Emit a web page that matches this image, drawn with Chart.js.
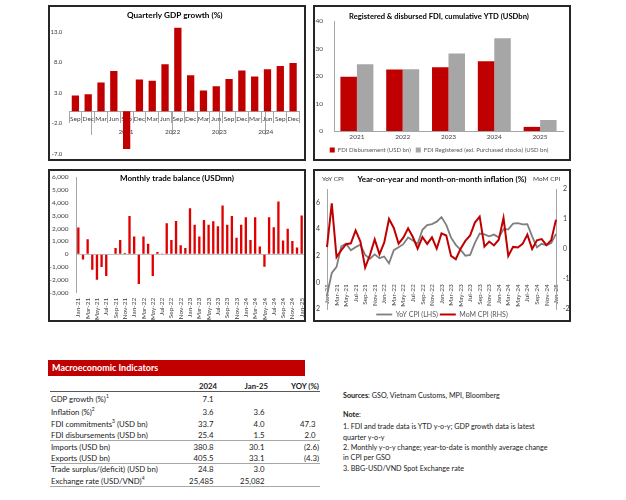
<!DOCTYPE html>
<html>
<head>
<meta charset="utf-8">
<script src="https://cdn.jsdelivr.net/npm/chart.js@4.4.1/dist/chart.umd.min.js"></script>
<style>
body{margin:0;width:626px;height:500px;background:#fff;position:relative;overflow:hidden;font-family:Lato,"Liberation Sans",sans-serif;color:#1a1a1a}
.box{position:absolute;border:2px solid #262626}
.box canvas{display:block}
.cap{position:absolute;font-size:6.5px;line-height:8px;color:#404040;white-space:nowrap}
#bar{position:absolute;left:48px;top:360px;width:253px;height:16px;background:#c00000;color:#fff;font-weight:bold;font-size:9px;line-height:16px;padding-left:4px}
.row{position:absolute;left:50px;width:270px;height:12px;font-size:7.8px;line-height:12px;white-space:nowrap}
.row span{position:absolute;top:0}
.row .l{left:1px}
.row .a{right:103px}
.row .b{right:52px}
.row .c{right:1px}
.row .p{padding-right:3.5px}
.row sup{font-size:5px;line-height:0;vertical-align:4px}
.hd{font-weight:bold}
.ln{position:absolute;left:50px;width:270px;height:1px;background:#a6a6a6}
.nt{position:absolute;left:343px;font-size:7.2px;line-height:9px;white-space:nowrap;color:#1a1a1a}
</style>
</head>
<body>

<div class="box" style="left:48px;top:5px"><canvas id="gdp" width="254" height="152"></canvas></div>
<div class="box" style="left:313px;top:5px"><canvas id="fdi" width="254" height="152"></canvas></div>
<div class="box" style="left:48px;top:169px"><canvas id="trade" width="254" height="149"></canvas></div>
<div class="box" style="left:313px;top:169px"><canvas id="cpi" width="254" height="149"></canvas></div>
<div class="cap" style="left:322px;top:175px">YoY CPI</div>
<div class="cap" style="left:533px;top:175px">MoM CPI</div>

<div id="bar">Macroeconomic Indicators</div>
<div class="row hd" style="top:380px"><span class="a">2024</span><span class="b">Jan-25</span><span class="c">YOY (%)</span></div>
<div class="ln" style="top:391px;background:#595959"></div>
<div class="row" style="top:393px"><span class="l">GDP growth (%)<sup>1</sup></span><span class="a p">7.1</span></div>
<div class="row" style="top:406px"><span class="l">Inflation (%)<sup>2</sup></span><span class="a p">3.6</span><span class="b p">3.6</span></div>
<div class="row" style="top:418px"><span class="l">FDI commitments<sup>3</sup> (USD bn)</span><span class="a p">33.7</span><span class="b p">4.0</span><span class="c p">47.3</span></div>
<div class="row" style="top:429px"><span class="l">FDI disbursements (USD bn)</span><span class="a p">25.4</span><span class="b p">1.5</span><span class="c p">2.0</span></div>
<div class="ln" style="top:440px"></div>
<div class="row" style="top:441px"><span class="l">Imports (USD bn)</span><span class="a p">380.8</span><span class="b p">30.1</span><span class="c">(2.6)</span></div>
<div class="row" style="top:452px"><span class="l">Exports (USD bn)</span><span class="a p">405.5</span><span class="b p">33.1</span><span class="c">(4.3)</span></div>
<div class="ln" style="top:463px"></div>
<div class="row" style="top:463px"><span class="l">Trade surplus/(deficit) (USD bn)</span><span class="a p">24.8</span><span class="b p">3.0</span></div>
<div class="row" style="top:475px"><span class="l">Exchange rate (USD/VND)<sup>4</sup></span><span class="a p">25,485</span><span class="b p">25,082</span></div>
<div class="ln" style="top:486px"></div>

<div class="nt" style="top:391px"><b>Sources</b>: GSO, Vietnam Customs, MPI, Bloomberg</div>
<div class="nt" style="top:410px"><b>Note</b>:</div>
<div class="nt" style="top:422px">1. FDI and trade data is YTD y-o-y; GDP growth data is latest</div>
<div class="nt" style="top:433px">quarter y-o-y</div>
<div class="nt" style="top:443px">2. Monthly y-o-y change; year-to-date is monthly average change</div>
<div class="nt" style="top:453px">in CPI per GSO</div>
<div class="nt" style="top:464px">3. BBG-USD/VND Spot Exchange rate</div>

<script>
// quarterly GDP growth, Q3 2020 - Q4 2024
const gdpQuarters = ['Sep','Dec','Mar','Jun','Sep','Dec','Mar','Jun','Sep','Dec','Mar','Jun','Sep','Dec','Mar','Jun','Sep','Dec']
const gdpGrowth = [2.6, 2.8, 4.7, 6.6, -6.2, 5.2, 5.0, 7.7, 13.7, 5.9, 3.4, 4.1, 5.3, 6.7, 5.7, 6.9, 7.4, 7.9]
const gdpYears = ['', '2021', '2022', '2023', '2024']
const gdpYearSpan = [2, 4, 4, 4, 4]
const gdpTicks = [-7, -2, 3, 8, 13]

// FDI, cumulative YTD
const fdiYears = ['2021', '2022', '2023', '2024', '2025']
const fdiDisbursed = [19.7, 22.4, 23.2, 25.4, 1.5]
const fdiRegistered = [24.3, 22.5, 28.2, 33.7, 4.0]

// monthly axis shared by trade and CPI
const months = [
    'Jan-21','Feb-21','Mar-21','Apr-21','May-21','Jun-21','Jul-21','Aug-21','Sep-21','Oct-21','Nov-21','Dec-21',
    'Jan-22','Feb-22','Mar-22','Apr-22','May-22','Jun-22','Jul-22','Aug-22','Sep-22','Oct-22','Nov-22','Dec-22',
    'Jan-23','Feb-23','Mar-23','Apr-23','May-23','Jun-23','Jul-23','Aug-23','Sep-23','Oct-23','Nov-23','Dec-23',
    'Jan-24','Feb-24','Mar-24','Apr-24','May-24','Jun-24','Jul-24','Aug-24','Sep-24','Oct-24','Nov-24','Dec-24',
    'Jan-25'
]
const tradeBalance = [
    2070, -410, 1160, -1220, -1990, -1010, -1700, -40, 470, 1090, 80, 2970,
    1370, -2330, 1370, 800, -1700, 170, 20, 2400, 1100, 2580, 700, 480,
    3570, 2280, 1370, 2660, 2280, 2560, 2170, 3780, 2280, 2970, 1270, 2280,
    2870, 1090, 2870, 600, -980, 2870, 2090, 4090, 1060, 1970, 1030, 520,
    3000
]
const yoyCpi = [
    -0.97, 0.70, 1.16, 2.70, 2.90, 2.41, 2.64, 2.82, 2.06, 1.77, 2.10, 1.81,
    1.94, 1.42, 2.41, 2.64, 2.86, 3.37, 3.14, 2.89, 3.94, 4.30, 4.37, 4.55,
    4.89, 4.31, 3.35, 2.81, 2.43, 2.00, 2.06, 2.96, 3.66, 3.59, 3.45, 3.58,
    3.37, 3.98, 3.97, 4.40, 4.44, 4.34, 4.36, 3.45, 2.63, 2.89, 2.77, 2.94,
    3.63
]
const momCpi = [
    0.06, 1.52, -0.27, -0.04, 0.16, 0.19, 0.62, 0.25, -0.62, -0.20, 0.32, -0.18,
    0.22, 1.00, 0.70, 0.18, 0.38, 0.69, 0.40, 0.01, 0.40, 0.17, 0.39, 0.01,
    0.52, 0.45, -0.23, -0.34, 0.01, 0.27, 0.45, 0.88, 1.08, 0.08, 0.25, 0.12,
    0.31, 1.04, -0.23, 0.07, 0.05, 0.17, 0.48, 0.00, 0.29, 0.33, 0.13, 0.29,
    0.98
]
const cpiLeftTicks = [-2, 0, 2, 4, 6]
const cpiRightTicks = [-2, -1, 0, 1, 2]

Chart.defaults.font.family = 'Lato, "Liberation Sans", sans-serif'
Chart.defaults.color = '#595959'
Chart.defaults.animation = false
Chart.defaults.plugins.tooltip.enabled = false

const axisGrey = '#a6a6a6'
const noGrid = { display: false, drawTicks: false }

// pin axis size, drop the label overhang padding (it shrinks the plot otherwise)
const fixW = w => s => { s.width = w; s.paddingTop = 0; s.paddingBottom = 0 }
const fixH = h => s => { s.height = h; s.paddingLeft = 0; s.paddingRight = 0 }
const setTicks = arr => s => { s.ticks = arr.map(v => ({ value: v })) }

// year group edges / centres for the GDP axis
const gdpEdges = []
const gdpMids = []
let pos = -0.5
gdpYearSpan.forEach(n => { gdpEdges.push(pos); gdpMids.push(pos + n / 2); pos += n })
gdpEdges.push(pos)

let gdpChart = new Chart(document.querySelector('#gdp'), {
    type: 'bar',
    data: {
        labels: gdpQuarters,
        datasets: [{ data: gdpGrowth, backgroundColor: '#c00000', barPercentage: 1, categoryPercentage: 0.57 }]
    },
    options: {
        responsive: false,
        layout: { padding: { right: 4.5, bottom: 5 } },
        plugins: {
            legend: { display: false },
            title: { display: true, text: 'Quarterly GDP growth (%)', color: '#000', font: { size: 8.2, weight: 'bold' }, padding: { top: 3, bottom: 6 } }
        },
        scales: {
            x: {
                position: { y: 0 },
                grid: { drawOnChartArea: false, tickLength: 11, color: axisGrey },
                border: { color: axisGrey },
                ticks: { padding: -7.3, autoSkip: false, maxRotation: 0, color: '#404040', font: { size: 6.5 } },
                afterFit: fixH(0)
            },
            x2: {
                type: 'linear',
                position: { y: 0 },
                min: -0.5,
                max: gdpQuarters.length - 0.5,
                afterBuildTicks: s => {
                    s.ticks = gdpEdges.map(v => ({ value: v, edge: true }))
                        .concat(gdpMids.map((v, i) => ({ value: v, year: gdpYears[i] })))
                },
                grid: { drawOnChartArea: false, tickLength: 24, tickColor: c => c.tick && c.tick.edge ? axisGrey : 'transparent' },
                border: { display: false },
                ticks: { padding: -7.6, autoSkip: false, maxRotation: 0, color: '#404040', font: { size: 6.5 },
                    callback: (v, i, t) => t[i].year || '' },
                afterFit: fixH(0)
            },
            y: {
                min: -7,
                max: 14,
                afterBuildTicks: setTicks(gdpTicks),
                afterFit: fixW(19),
                grid: noGrid,
                border: { display: false },
                ticks: { padding: 6.7, color: '#404040', font: { size: 6 }, callback: v => v.toFixed(1) }
            }
        }
    }
})

let fdiChart = new Chart(document.querySelector('#fdi'), {
    type: 'bar',
    data: {
        labels: fdiYears,
        datasets: [
            { label: 'FDI Disbursement (USD bn)', data: fdiDisbursed, backgroundColor: '#c00000', barPercentage: 1, categoryPercentage: 0.72 },
            { label: 'FDI Registered (exl. Purchased stocks) (USD bn)', data: fdiRegistered, backgroundColor: '#a6a6a6', barPercentage: 1, categoryPercentage: 0.72 }
        ]
    },
    options: {
        responsive: false,
        layout: { padding: { right: 6 } },
        plugins: {
            title: { display: true, text: 'Registered & disbursed FDI, cumulative YTD (USDbn)', color: '#000', font: { size: 7.6, weight: 'bold' }, padding: { top: 5.4, bottom: -0.5 } },
            legend: { position: 'bottom', maxHeight: 17, labels: { boxWidth: 5, boxHeight: 5, padding: 5, color: '#595959', font: { size: 6 } } }
        },
        scales: {
            x: {
                grid: noGrid,
                border: { color: axisGrey },
                ticks: { padding: 1.8, color: '#404040', font: { size: 6.5 } },
                afterFit: fixH(11)
            },
            y: {
                min: 0,
                max: 40,
                ticks: { stepSize: 10, padding: 11, color: '#404040', font: { size: 6.5 } },
                afterFit: fixW(19),
                grid: noGrid,
                border: { color: axisGrey }
            }
        }
    }
})

let tradeChart = new Chart(document.querySelector('#trade'), {
    type: 'bar',
    data: {
        labels: months,
        datasets: [{ data: tradeBalance, backgroundColor: '#e00000', barPercentage: 1, categoryPercentage: 0.5 }]
    },
    options: {
        responsive: false,
        layout: { padding: { top: 6 } },
        plugins: {
            legend: { display: false },
            title: { display: true, text: 'Monthly trade balance (USDmn)', color: '#000', font: { size: 8, weight: 'bold' }, padding: { top: -3.8, bottom: -5.8 } }
        },
        scales: {
            x: {
                grid: noGrid,
                border: { display: false },
                ticks: { padding: 5, minRotation: 90, maxRotation: 90, autoSkip: false, color: '#404040', font: { size: 6.5 },
                    callback: (v, i) => i % 2 ? '' : months[i] },
                afterFit: fixH(27.3)
            },
            y: {
                min: -3000,
                max: 6000,
                ticks: { stepSize: 1000, padding: 7.5, color: '#404040', font: { size: 6.5 }, callback: v => v.toLocaleString('en-US') },
                afterFit: fixW(26),
                grid: { drawTicks: false, color: c => c.tick && c.tick.value === 0 ? '#bfbfbf' : 'transparent' },
                border: { color: axisGrey }
            }
        }
    }
})

let cpiChart = new Chart(document.querySelector('#cpi'), {
    type: 'line',
    data: {
        labels: months,
        datasets: [
            { label: 'YoY CPI (LHS)', data: yoyCpi, yAxisID: 'y', borderColor: '#7f7f7f', borderWidth: 1.8, pointRadius: 0, order: 2 },
            { label: 'MoM CPI (RHS)', data: momCpi, yAxisID: 'y1', borderColor: '#c00000', borderWidth: 2, pointRadius: 0, order: 1 }
        ]
    },
    options: {
        responsive: false,
        plugins: {
            title: { display: true, text: 'Year-on-year and month-on-month inflation (%)', color: '#000', font: { size: 8, weight: 'bold' }, padding: { top: 3.2, bottom: 5.2 } },
            legend: { position: 'bottom', maxHeight: 11,
                labels: { usePointStyle: true, pointStyle: 'line', pointStyleWidth: 16, padding: 2, color: '#595959', font: { size: 7 },
                    sort: (a, b) => a.datasetIndex - b.datasetIndex } }
        },
        scales: {
            x: {
                position: { y: 0 },
                offset: false,
                grid: noGrid,
                border: { display: false },
                ticks: { padding: 2, minRotation: 90, maxRotation: 90, autoSkip: false, color: '#404040', font: { size: 6.5 },
                    callback: (v, i) => i % 2 ? '' : months[i] },
                afterFit: fixH(0)
            },
            y: {
                position: 'left',
                min: -2,
                max: 7,
                afterBuildTicks: setTicks(cpiLeftTicks),
                afterFit: fixW(12),
                grid: noGrid,
                border: { color: axisGrey },
                ticks: { padding: 7, color: '#404040', font: { size: 7 } }
            },
            y1: {
                position: 'right',
                min: -2,
                max: 2,
                afterBuildTicks: setTicks(cpiRightTicks),
                afterFit: fixW(13),
                grid: noGrid,
                border: { color: axisGrey },
                ticks: { padding: 7, color: '#404040', font: { size: 7 } }
            }
        }
    }
})
</script>
</body>
</html>
